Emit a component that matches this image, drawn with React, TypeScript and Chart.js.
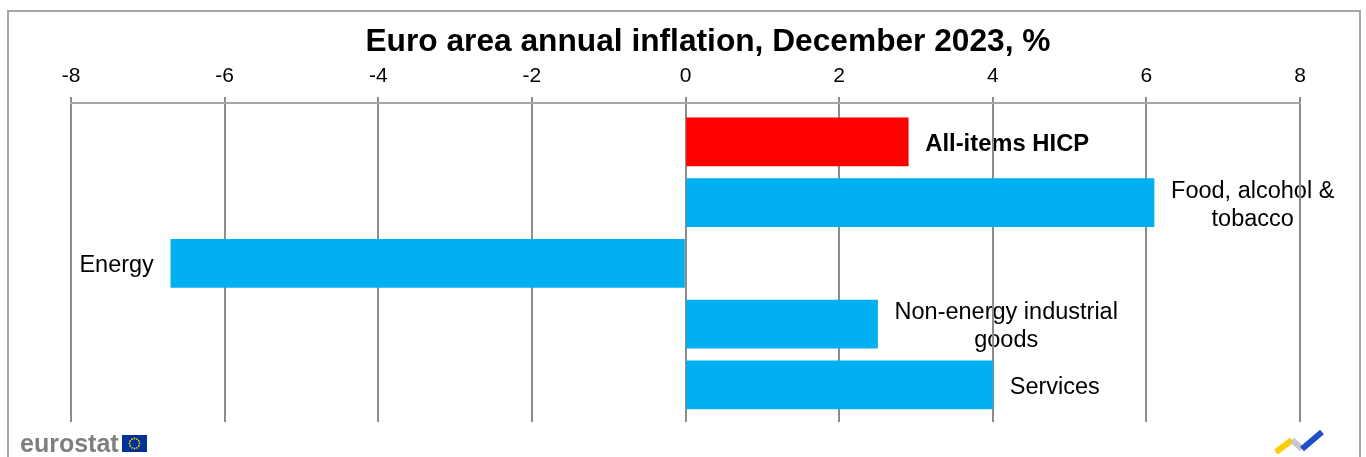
import React, { useEffect, useRef } from "react";
import { Chart, registerables } from "chart.js";

Chart.register(...registerables);

const categories: string[][] = [
  ["All-items HICP"],
  ["Food, alcohol &", "tobacco"],
  ["Energy"],
  ["Non-energy industrial", "goods"],
  ["Services"],
];
const values: number[] = [2.9, 6.1, -6.7, 2.5, 4.0];
const barColors: string[] = ["#FF0000", "#00B0F0", "#00B0F0", "#00B0F0", "#00B0F0"];
const boldLabel: boolean[] = [true, false, false, false, false];
const xTicks: number[] = [-8, -6, -4, -2, 0, 2, 4, 6, 8];
const title = "Euro area annual inflation, December 2023, %";

const FONT = "'Liberation Sans', Arial, sans-serif";

const labelPlugin = {
  id: "barLabels",
  beforeDraw(chart: any) {
    const ctx = chart.ctx;
    const meta = chart.getDatasetMeta(0);
    ctx.save();
    ctx.fillStyle = "#000";
    ctx.textBaseline = "middle";
    meta.data.forEach((bar: any, i: number) => {
      const lines = categories[i];
      ctx.font = boldLabel[i] ? "bold 23.8px " + FONT : "23.5px " + FONT;
      const widths = lines.map((l) => ctx.measureText(l).width);
      const maxW = Math.max(...widths);
      const lh = 28;
      const y0 = bar.y + 2.5 - ((lines.length - 1) * lh) / 2;
      const neg = values[i] < 0;
      const gap = 17;
      const center = neg ? bar.x - gap - maxW / 2 : bar.x + gap + maxW / 2;
      ctx.textAlign = "center";
      lines.forEach((l, k) => ctx.fillText(l, center, y0 + k * lh));
    });
    ctx.restore();
  },
};

const decorPlugin = {
  id: "decor",
  afterDraw(chart: any) {
    const ctx = chart.ctx;
    ctx.save();
    // frame
    ctx.strokeStyle = "#A6A6A6";
    ctx.lineWidth = 2;
    ctx.beginPath();
    ctx.moveTo(8, 470);
    ctx.lineTo(8, 11);
    ctx.lineTo(1360, 11);
    ctx.lineTo(1360, 470);
    ctx.stroke();
    // title
    ctx.fillStyle = "#000";
    ctx.font = "bold 31.7px " + FONT;
    ctx.textAlign = "center";
    ctx.textBaseline = "middle";
    ctx.fillText(title, 708, 42);
    // eurostat logo
    ctx.font = "bold 25px " + FONT;
    ctx.fillStyle = "#7F7F7F";
    ctx.textAlign = "left";
    ctx.textBaseline = "alphabetic";
    ctx.fillText("eurostat", 20, 452);
    ctx.fillStyle = "#003399";
    ctx.fillRect(122, 435, 25, 17);
    ctx.fillStyle = "#FFCC00";
    for (let k = 0; k < 12; k++) {
      const a = (k / 12) * Math.PI * 2;
      ctx.beginPath();
      ctx.arc(134.5 + Math.cos(a) * 5, 443.5 + Math.sin(a) * 5, 0.9, 0, Math.PI * 2);
      ctx.fill();
    }
    // right logo
    ctx.lineCap = "butt";
    ctx.lineWidth = 6;
    ctx.strokeStyle = "#FFCC00";
    ctx.beginPath();
    ctx.moveTo(1276, 452);
    ctx.lineTo(1292, 440);
    ctx.stroke();
    ctx.strokeStyle = "#C8C8C8";
    ctx.beginPath();
    ctx.moveTo(1292, 440);
    ctx.lineTo(1302, 449);
    ctx.stroke();
    ctx.strokeStyle = "#1F4FC8";
    ctx.beginPath();
    ctx.moveTo(1302, 449);
    ctx.lineTo(1322, 432);
    ctx.stroke();
    ctx.restore();
  },
};

export default function App() {
  const ref = useRef<HTMLCanvasElement>(null);
  useEffect(() => {
    document.body.style.margin = "0";
    const chart = new Chart(ref.current as HTMLCanvasElement, {
      type: "bar",
      data: {
        datasets: [
          {
            data: values.map((v, i) => ({ x: v, y: i })),
            backgroundColor: barColors,
            barThickness: 48,
            borderWidth: 0,
          },
        ],
      },
      options: {
        indexAxis: "y",
        animation: false,
        responsive: false,
        events: [],
        layout: { padding: { left: 71, right: 66, top: 58, bottom: 35 } },
        plugins: {
          legend: { display: false },
          tooltip: { enabled: false },
          title: { display: false },
        },
        scales: {
          x: {
            type: "linear",
            position: "top",
            min: -8,
            max: 8,
            afterBuildTicks: (s: any) => {
              s.ticks = xTicks.map((v) => ({ value: v }));
            },
            afterFit: (s: any) => {
              s.height = 45;
            },
            ticks: {
              color: "#000",
              font: { family: FONT, size: 21 },
              padding: 8,
            },
            grid: {
              color: "#8C8C8C",
              lineWidth: 2,
              tickLength: 6,
              drawTicks: true,
            },
            border: { display: true, color: "#A6A6A6", width: 2 },
          },
          y: {
            type: "linear",
            display: false,
            offset: false,
            reverse: true,
            min: -0.64,
            max: 4.61,
          },
        },
      },
      plugins: [labelPlugin, decorPlugin],
    } as any);
    return () => chart.destroy();
  }, []);
  return <canvas ref={ref} width={1366} height={457} style={{ display: "block" }} />;
}
